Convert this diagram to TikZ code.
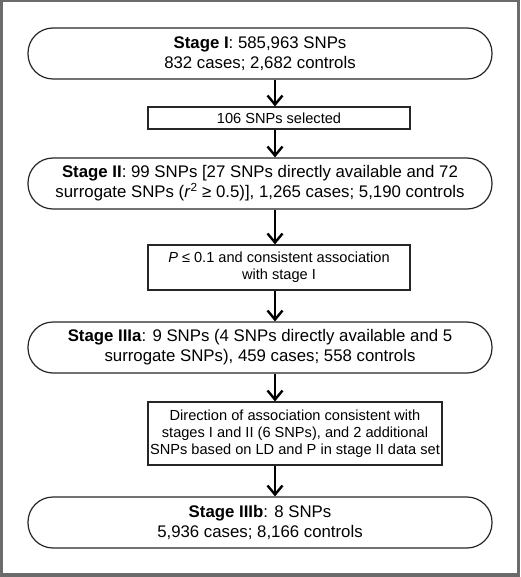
\documentclass[tikz,border=0pt]{standalone}
\usepackage{fontspec}
\setmainfont{Liberation Sans}
\usetikzlibrary{arrows.meta}
\begin{document}
\begin{tikzpicture}[x=1pt,y=-1pt,
  stagebox/.style={draw=black!85, line width=1.2pt, rounded corners=25pt,
    minimum width=464pt, minimum height=51pt, inner sep=0pt, align=center,
    font=\fontsize{16.8}{20}\selectfont},
  critbox/.style={draw=black!85, line width=1.2pt, inner sep=0pt, align=center,
    font=\fontsize{14.6}{16.8}\selectfont},
  arr/.style={line width=2.4pt, -{Straight Barb[length=9pt,width=15pt,line width=2.4pt]}}]
\fill[black!58] (0,0) rectangle (520,577);
\fill[white] (3,2.5) rectangle (516.5,573);
\useasboundingbox (0,0) rectangle (520,577);
\node[stagebox] (s1) at (260,53.5) {\textbf{Stage I}: 585,963 SNPs\\832 cases; 2,682 controls};
\node[critbox, minimum width=262pt, minimum height=22pt] (b1) at (279,118) {106 SNPs selected};
\node[stagebox] (s2) at (260,183.5) {\textbf{Stage II}: 99 SNPs [27 SNPs directly available and 72\\surrogate SNPs (\textit{r}\textsuperscript{2} ≥ 0.5)], 1,265 cases; 5,190 controls};
\node[critbox, minimum width=262pt, minimum height=45pt] (b2) at (279,267.5) {\textit{P} ≤ 0.1 and consistent association\\with stage I};
\node[stagebox] (s3) at (260,347.5) {\textbf{Stage IIIa}: 9 SNPs (4 SNPs directly available and 5\\surrogate SNPs), 459 cases; 558 controls};
\node[critbox, minimum width=294pt, minimum height=63pt] (b3) at (295,433.5) {Direction of association consistent with\\stages I and II (6 SNPs), and 2 additional\\SNPs based on LD and P in stage II data set};
\node[stagebox] (s4) at (260,522.5) {\textbf{Stage IIIb}: 8 SNPs\\5,936 cases; 8,166 controls};
\coordinate (ax) at (275,0);
\draw[arr] (s1.south -| ax) -- (b1.north -| ax);
\draw[arr] (b1.south -| ax) -- (s2.north -| ax);
\draw[arr] (s2.south -| ax) -- (b2.north -| ax);
\draw[arr] (b2.south -| ax) -- (s3.north -| ax);
\draw[arr] (s3.south -| ax) -- (b3.north -| ax);
\draw[arr] (b3.south -| ax) -- (s4.north -| ax);
\end{tikzpicture}
\end{document}
